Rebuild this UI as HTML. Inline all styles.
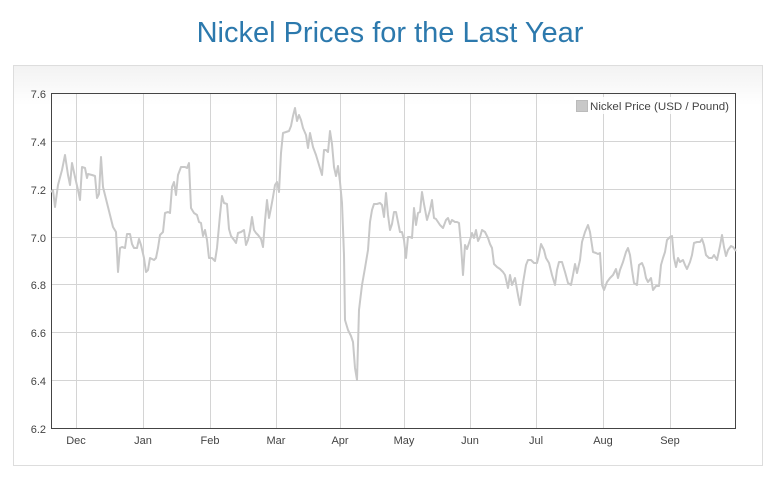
<!DOCTYPE html>
<html><head><meta charset="utf-8"><style>
body{margin:0;width:780px;height:476px;background:#fff;font-family:"Liberation Sans",Arial,sans-serif;overflow:hidden}
</style></head><body>
<svg width="780" height="476" xmlns="http://www.w3.org/2000/svg" font-family="Liberation Sans, Arial, sans-serif">
<defs><linearGradient id="g" x1="0" y1="0" x2="0" y2="1"><stop offset="0" stop-color="#f2f2f2"/><stop offset="0.1" stop-color="#fff"/></linearGradient></defs>
<text x="390" y="42" text-anchor="middle" font-size="29" fill="#2c79ad">Nickel Prices for the Last Year</text>
<rect x="13.5" y="65.5" width="749" height="400" fill="url(#g)" stroke="#ddd"/>
<g stroke="#d4d4d4" stroke-width="1">
<line x1="51" y1="141.5" x2="736" y2="141.5"/><line x1="51" y1="189.5" x2="736" y2="189.5"/><line x1="51" y1="237.5" x2="736" y2="237.5"/><line x1="51" y1="284.5" x2="736" y2="284.5"/><line x1="51" y1="332.5" x2="736" y2="332.5"/><line x1="51" y1="380.5" x2="736" y2="380.5"/>
<line x1="76.5" y1="93" x2="76.5" y2="428"/><line x1="143.5" y1="93" x2="143.5" y2="428"/><line x1="210.5" y1="93" x2="210.5" y2="428"/><line x1="276.5" y1="93" x2="276.5" y2="428"/><line x1="340.5" y1="93" x2="340.5" y2="428"/><line x1="404.5" y1="93" x2="404.5" y2="428"/><line x1="470.5" y1="93" x2="470.5" y2="428"/><line x1="536.5" y1="93" x2="536.5" y2="428"/><line x1="603.5" y1="93" x2="603.5" y2="428"/><line x1="670.5" y1="93" x2="670.5" y2="428"/>
</g>
<rect x="51.5" y="93.5" width="684" height="335" fill="none" stroke="#444" stroke-width="1"/>
<g font-size="11" fill="#444" text-anchor="end">
<text x="46" y="98">7.6</text><text x="46" y="146">7.4</text><text x="46" y="194">7.2</text><text x="46" y="242">7.0</text><text x="46" y="289">6.8</text><text x="46" y="337">6.6</text><text x="46" y="385">6.4</text><text x="46" y="433">6.2</text>
</g>
<g font-size="11" fill="#444" text-anchor="middle">
<text x="76" y="444">Dec</text><text x="143" y="444">Jan</text><text x="210" y="444">Feb</text><text x="276" y="444">Mar</text><text x="340" y="444">Apr</text><text x="404" y="444">May</text><text x="470" y="444">Jun</text><text x="536" y="444">Jul</text><text x="603" y="444">Aug</text><text x="670" y="444">Sep</text>
</g>
<polyline fill="none" stroke="#c8c8c8" stroke-width="2" stroke-linejoin="round" points="51,192 53,190 55,207 58,185 62,170 65,155 68,175 70,185 72,163 75,177 78,190 80,200 82,167 85,168 87,178 88,174 92,175 95,176 97,198 99,194 101,157 103,187 107,203 110,215 113,227 116,232 118,272 120,248 122,247 125,248 127,234 130,234 132,244 134,248 137,248 139,239 141,245 144,258 146,272 148,270 150,258 152,259 154,260 156,258 158,248 160,235 163,232 165,213 168,212 170,213 172,187 174,182 176,195 178,175 181,167 185,167 187,168 189,163 191,208 194,213 197,215 199,222 201,223 203,236 205,230 207,240 209,258 212,258 215,261 217,248 220,215 222,196 224,203 227,204 229,229 231,236 234,240 236,243 238,233 241,232 244,230 246,245 248,240 250,231 252,217 254,230 256,233 258,235 261,239 263,247 265,221 267,200 269,218 271,208 273,197 275,185 277,182 279,192 281,153 283,133 286,132 289,131 291,126 293,116 295,108 297,121 299,115 301,120 303,128 306,135 308,148 310,133 313,147 316,155 319,165 322,175 324,150 326,150 328,152 330,131 332,144 334,167 336,176 338,166 340,182 342,203 344,255 345,320 348,330 351,336 353,342 355,368 357,380 359,310 362,285 365,268 368,250 370,222 372,210 374,204 377,204 380,203 382,205 384,217 386,193 388,215 390,230 392,224 394,212 396,212 398,222 400,232 402,232 404,240 406,258 408,237 410,237 412,238 414,208 416,225 418,213 420,212 422,192 424,204 427,220 430,210 432,200 434,218 436,219 438,222 440,225 443,228 446,220 448,218 450,224 452,220 455,222 457,222 459,223 461,245 463,275 465,245 467,249 470,240 472,233 474,238 476,230 478,241 480,237 482,230 485,232 488,238 490,244 492,248 494,264 497,267 500,269 503,272 505,275 508,288 510,275 512,285 515,278 518,295 520,305 523,283 526,265 528,260 531,260 534,263 537,263 539,255 541,244 544,250 546,258 549,263 552,275 555,285 557,270 559,262 562,262 565,272 568,283 571,285 573,275 575,264 577,273 580,260 582,242 585,232 588,225 590,232 593,252 596,253 598,254 600,253 602,285 604,290 607,282 610,278 613,275 616,269 618,278 620,270 623,262 626,252 628,248 630,255 632,270 634,283 637,285 639,265 642,263 644,268 646,278 648,282 651,278 653,290 656,286 659,286 661,265 663,258 665,252 667,240 670,237 672,236 674,258 676,267 678,258 680,262 683,260 685,265 687,269 690,262 692,255 694,243 697,242 700,242 702,239 704,245 706,255 709,258 712,258 714,255 717,260 720,246 722,235 724,247 726,256 728,250 731,246 733,247 736,251"/>
<rect x="574" y="97" width="158" height="17" fill="#fff" opacity="0.85"/>
<rect x="576.5" y="100.5" width="11" height="11" fill="#c8c8c8" stroke="#bbb"/>
<text x="590" y="110" font-size="11" fill="#444" textLength="139" lengthAdjust="spacingAndGlyphs">Nickel Price (USD / Pound)</text>
</svg>
</body></html>
